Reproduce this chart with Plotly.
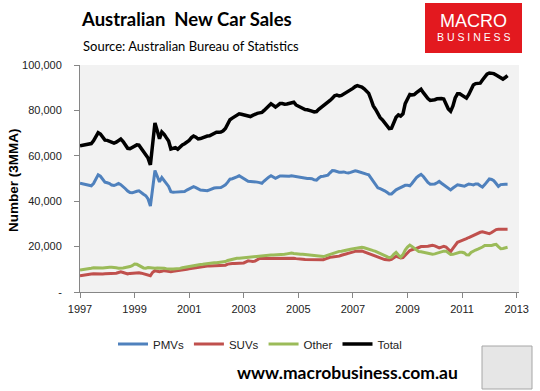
import pandas as pd
import plotly.graph_objects as go

# Monthly dates Jan 1997 - Sep 2012
months = pd.date_range("1997-01-01", periods=189, freq="MS")

# Values in thousands (3-month moving average)
pmv_k = [
    47.9, 47.7, 47.4, 47.2, 47.0, 46.8, 47.8, 50.1, 51.6, 51.0, 49.8, 48.4,
    48.1, 47.8, 47.1, 46.9, 47.3, 47.8, 47.3, 46.5, 45.5, 44.5, 43.8, 43.7,
    44.2, 44.4, 44.6, 44.0, 43.1, 42.4, 41.0, 37.9, 46.0, 53.5, 51.0, 48.5,
    50.4, 49.2, 47.8, 46.5, 44.2, 43.9, 44.0, 44.1, 43.9, 44.0, 44.3, 44.9,
    45.5, 46.1, 46.4, 46.0, 45.3, 44.9, 44.8, 44.7, 44.6, 45.0, 45.6, 45.8,
    45.9, 46.0, 46.0, 46.6, 47.2, 48.4, 49.7, 49.9, 50.2, 50.7, 51.2, 50.6,
    49.9, 49.3, 48.8, 48.7, 48.7, 48.7, 48.4, 48.2, 47.9, 48.9, 49.9, 50.6,
    51.2, 50.7, 50.1, 50.6, 51.1, 51.1, 51.0, 50.8, 51.0, 51.2, 51.0, 50.8,
    50.7, 50.6, 50.4, 50.2, 50.0, 50.0, 49.9, 49.4, 49.3, 50.2, 50.9, 51.0,
    51.1, 51.5, 52.5, 53.5, 53.4, 53.0, 52.8, 52.8, 52.9, 52.6, 52.4, 52.7,
    53.1, 53.4, 53.2, 52.8, 52.5, 52.2, 51.9, 51.6, 50.1, 48.4, 47.1, 45.9,
    45.5, 45.2, 44.6, 43.9, 43.2, 43.2, 44.2, 45.0, 45.5, 46.0, 46.5, 47.0,
    47.0, 46.8, 47.8, 49.2, 50.4, 51.2, 51.8, 50.9, 49.5, 48.3, 47.5, 47.5,
    47.6, 48.1, 48.7, 47.9, 47.2, 46.4, 45.7, 45.0, 45.8, 46.6, 47.2, 47.0,
    46.7, 46.6, 47.1, 47.6, 47.4, 47.2, 47.6, 47.6, 46.8, 46.2, 47.3, 48.6,
    49.8, 49.6, 49.0, 47.8, 46.5, 47.3, 47.5, 47.5, 47.5,
]
suv_k = [
    7.1, 7.3, 7.5, 7.8, 7.9, 7.9, 8.0, 7.9, 7.9, 7.8, 7.9, 8.0,
    8.0, 8.0, 8.0, 8.0, 8.3, 8.6, 8.9, 8.6, 8.3, 8.0, 8.2, 8.3,
    8.5, 8.5, 8.5, 8.3, 8.0, 7.8, 7.4, 7.2, 8.7, 9.4, 9.1, 8.9,
    9.1, 9.4, 9.2, 9.0, 8.9, 9.1, 9.2, 9.4, 9.6, 9.8, 9.8, 10.0,
    10.2, 10.4, 10.6, 10.7, 10.9, 11.0, 11.2, 11.4, 11.5, 11.5, 11.5, 11.5,
    11.5, 11.5, 11.6, 11.6, 11.8, 12.3, 12.6, 12.6, 12.6, 12.6, 12.7, 12.7,
    12.8, 13.3, 13.7, 13.6, 13.4, 13.6, 14.2, 14.8, 14.8, 14.8, 14.8, 14.8,
    14.8, 14.8, 14.9, 15.0, 15.1, 15.0, 14.8, 14.9, 15.0, 15.1, 14.9, 14.7,
    14.5, 14.5, 14.4, 14.3, 14.3, 14.2, 14.1, 14.1, 14.1, 14.1, 14.1, 14.2,
    14.6, 15.0, 15.3, 15.4, 15.5, 15.7, 15.8, 16.2, 16.5, 16.9, 17.2, 17.5,
    17.8, 17.9, 18.0, 18.1, 18.1, 17.7, 17.3, 17.0, 16.5, 16.0, 15.6, 15.2,
    14.8, 14.4, 14.3, 14.2, 14.1, 14.4, 15.2, 15.7, 15.4, 15.0, 15.2, 16.2,
    17.3, 18.3, 18.6, 18.8, 19.2, 19.6, 20.0, 20.0, 20.0, 20.2, 20.4, 20.6,
    20.3, 19.7, 19.4, 19.8, 20.1, 19.8, 18.9, 17.8, 19.2, 20.6, 21.9, 22.3,
    22.6, 22.9, 23.5, 24.0, 24.5, 24.9, 25.4, 25.9, 26.3, 26.5, 26.3, 25.9,
    25.7, 26.2, 27.0, 27.5, 27.6, 27.6, 27.6, 27.6, 27.6,
]
other_k = [
    9.7, 9.8, 9.9, 10.1, 10.3, 10.5, 10.7, 10.6, 10.5, 10.4, 10.6, 10.7,
    10.9, 10.9, 10.9, 10.9, 10.7, 10.5, 10.4, 10.6, 10.8, 10.9, 11.2, 11.6,
    12.3, 12.2, 11.6, 11.1, 10.6, 10.5, 10.8, 10.7, 10.5, 10.5, 10.6, 10.6,
    10.7, 10.5, 10.3, 10.1, 10.1, 10.1, 10.1, 10.1, 10.4, 10.7, 10.9, 11.1,
    11.2, 11.5, 11.8, 11.9, 12.0, 12.1, 12.2, 12.4, 12.5, 12.6, 12.7, 12.9,
    12.9, 13.0, 13.0, 13.1, 13.4, 13.9, 14.2, 14.4, 14.7, 14.9, 14.9, 15.0,
    15.1, 15.3, 15.4, 15.6, 15.7, 15.8, 15.8, 15.9, 16.0, 16.1, 16.2, 16.3,
    16.3, 16.3, 16.3, 16.3, 16.4, 16.5, 16.6, 16.8, 17.0, 17.2, 17.0, 16.8,
    16.6, 16.6, 16.6, 16.5, 16.3, 16.2, 16.0, 15.9, 15.8, 15.7, 15.6, 15.6,
    15.9, 16.3, 16.6, 17.0, 17.4, 17.8, 17.9, 18.0, 18.1, 18.3, 18.6, 18.8,
    19.0, 19.1, 19.2, 19.4, 19.7, 19.5, 19.1, 18.8, 18.5, 18.2, 17.9, 17.5,
    17.0, 16.5, 16.1, 15.6, 15.1, 15.4, 16.6, 17.5, 16.3, 15.4, 16.5, 18.5,
    19.8, 20.7, 20.1, 19.4, 18.6, 17.8, 17.7, 17.5, 17.2, 16.8, 16.6, 16.6,
    16.8, 17.1, 17.4, 17.8, 18.0, 18.0, 17.2, 16.5, 16.6, 17.0, 17.4, 17.5,
    17.5, 17.2, 16.4, 16.3, 17.4, 18.1, 18.5, 18.9, 19.3, 19.8, 20.5, 20.5,
    20.3, 20.5, 20.8, 21.0, 20.0, 19.1, 19.2, 19.5, 19.7,
]
total_k = [
    64.4, 64.6, 64.8, 65.0, 65.1, 65.4, 66.6, 68.4, 70.2, 69.6, 68.0, 66.9,
    66.8, 66.4, 65.7, 65.6, 66.0, 66.8, 67.4, 66.3, 64.8, 63.3, 63.1, 63.6,
    64.3, 64.8, 64.7, 63.3, 61.8, 60.5, 59.0, 56.0, 65.0, 74.5, 71.0, 67.5,
    70.5, 69.5, 68.0, 66.5, 63.0, 63.5, 63.6, 62.9, 64.0, 64.8, 65.3, 65.9,
    66.8, 68.0, 68.7, 68.2, 67.4, 67.6, 68.0, 68.4, 68.7, 68.8, 69.4, 70.0,
    70.4, 70.4, 70.5, 71.0, 72.0, 74.0, 75.9, 76.6, 77.4, 78.0, 78.5, 78.3,
    78.1, 77.8, 77.5, 77.3, 77.8, 78.4, 78.7, 78.9, 79.1, 80.0, 80.9, 82.0,
    82.9, 82.2, 81.5, 82.2, 83.0, 83.0, 82.7, 82.8, 83.1, 83.4, 83.6, 82.4,
    81.8, 81.2, 80.7, 80.4, 80.3, 80.1, 79.7, 79.3, 79.5, 80.5, 81.3, 81.9,
    82.5, 83.5, 84.4, 85.4, 86.4, 86.7, 86.4, 86.6, 87.2, 87.8, 88.3, 88.8,
    89.7, 90.5, 90.9, 90.6, 90.3, 89.5, 88.6, 87.5, 84.8, 82.0, 80.4, 78.4,
    76.8, 75.8, 74.6, 73.5, 72.0, 72.2, 74.4, 77.0, 78.0, 77.5, 78.5, 83.0,
    85.0, 87.0, 86.8, 87.0, 87.8, 88.6, 89.3, 87.8, 86.2, 85.2, 84.4, 84.5,
    84.7, 85.1, 85.3, 85.2, 85.0, 83.0, 80.6, 79.6, 82.0, 85.5, 87.3, 87.3,
    86.7, 86.0, 85.4, 87.0, 89.5, 91.2, 91.8, 91.9, 92.0, 93.4, 95.0, 96.0,
    96.5, 96.4, 96.2, 95.6, 95.1, 94.4, 93.8, 94.5, 95.3,
]

series_names = ["PMVs", "SUVs", "Other", "Total"]
series_vals = [pmv_k, suv_k, other_k, total_k]
series_colors = ["#4f81bd", "#c0504d", "#9bbb59", "#000000"]
series_widths = [3, 3, 3, 3.5]

y_tickvals = [0, 20000, 40000, 60000, 80000, 100000]
y_ticktext = ["-", "20,000", "40,000", "60,000", "80,000", "100,000"]
x_years = [str(y) for y in range(1997, 2014, 2)]

W, H = 540, 391
L, R, T, B = 80, 519, 65, 292


def px(X):
    return (X - L) / (R - L)


def py(Y):
    return (B - Y) / (B - T)


fig = go.Figure()
for name, vals, col, w in zip(series_names, series_vals, series_colors, series_widths):
    fig.add_trace(go.Scatter(
        x=months, y=[v * 1000 for v in vals], name=name, mode="lines",
        line=dict(color=col, width=w),
    ))

axis_font = dict(family="Liberation Sans", size=11, color="#222222")

fig.update_layout(
    width=W, height=H,
    margin=dict(l=L, r=W - R, t=T, b=H - B),
    paper_bgcolor="white",
    plot_bgcolor="#f2f2f2",
    showlegend=True,
    legend=dict(
        orientation="h", x=px(260), xanchor="center", y=py(344), yanchor="middle",
        font=dict(family="Liberation Sans", size=11.5, color="#222222"),
        bgcolor="rgba(0,0,0,0)", itemwidth=30, tracegroupgap=0,
    ),
    xaxis=dict(
        range=["1997-01-01", "2013-02-01"],
        tickvals=[f"{y}-01-01" for y in x_years], ticktext=x_years,
        showgrid=False, zeroline=False, showline=True, linecolor="#868686", linewidth=1,
        ticks="outside", ticklen=5, tickcolor="#868686", tickfont=axis_font,
        ticklabelstandoff=2,
    ),
    yaxis=dict(
        range=[0, 100000], tickvals=y_tickvals, ticktext=y_ticktext,
        showgrid=False, zeroline=False, showline=True, linecolor="#868686", linewidth=1,
        ticks="outside", ticklen=5, tickcolor="#868686", tickfont=axis_font,
        ticklabelstandoff=10,
    ),
)

# Logo box
fig.add_shape(type="rect", xref="paper", yref="paper",
              x0=px(425), x1=px(522), y0=py(53), y1=py(3),
              fillcolor="#e3191f", line=dict(width=0), layer="above")
# Wolf picture frame
fig.add_shape(type="rect", xref="paper", yref="paper",
              x0=px(482), x1=px(532), y0=py(389), y1=py(346),
              fillcolor="#e6e6e6", line=dict(color="#a6a6a6", width=1), layer="above")

annots = [
    dict(text="<b>Australian  New Car Sales</b>", x=px(79), y=py(19), xanchor="left",
         font=dict(family="Lato", size=18.5, color="#000000")),
    dict(text="Source: Australian Bureau of Statistics", x=px(81), y=py(46), xanchor="left",
         font=dict(family="Lato", size=13, color="#000000")),
    dict(text="MACRO", x=px(473.5), y=py(21), xanchor="center", height=14,
         font=dict(family="Liberation Sans", size=18, color="#ffffff")),
    dict(text="B U S I N E S S", x=px(473.5), y=py(37), xanchor="center", height=10,
         font=dict(family="Liberation Sans", size=10.5, color="#ffffff")),
    dict(text="<b>Number (3MMA)</b>", x=px(13), y=py(180), xanchor="center", textangle=-90,
         font=dict(family="Liberation Sans", size=13.5, color="#000000")),
    dict(text="<b>www.macrobusiness.com.au</b>", x=px(347.5), y=py(372), xanchor="center",
         font=dict(family="Lato", size=17.5, color="#000000")),
]
for a in annots:
    fig.add_annotation(xref="paper", yref="paper", showarrow=False, yanchor="middle", **a)

fig.write_html("out.html", config={"displayModeBar": False},
               post_script="document.body.style.margin='0px';")
